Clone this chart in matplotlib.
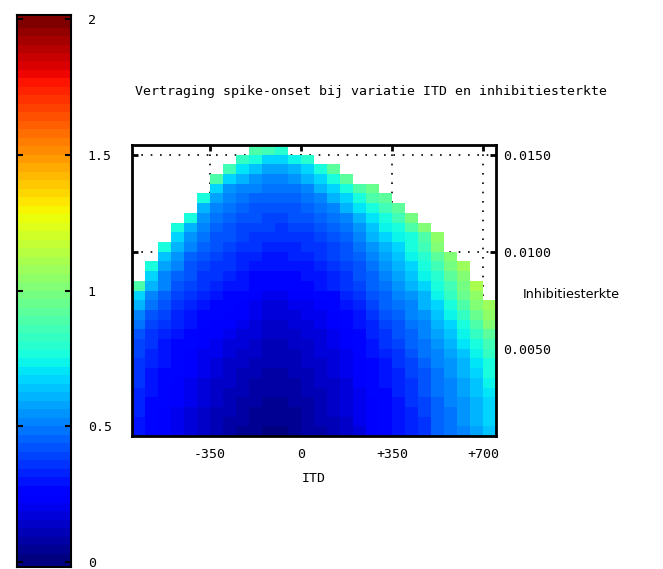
import numpy as np
import matplotlib.pyplot as plt

nan = np.nan

# cell edges: ITD in steps of 50, inhibition strength in steps of 0.0005
itd_edges = np.linspace(-650, 750, 29)
inhib_edges = np.linspace(0.0005, 0.0155, 31)

itd_ticks = [-350, 0, 350, 700]
itd_ticklabels = ['-350', '0', '+350', '+700']
inhib_ticks = [0.005, 0.010, 0.015]
inhib_ticklabels = ['0.0050', '0.0100', '0.0150']
cbar_ticks = [0, 0.5, 1, 1.5, 2]
cbar_ticklabels = ['0', '0.5', '1', '1.5', '2']

# spike-onset delay, rows from strongest inhibition (top) to weakest (bottom)
onset_delay = [
    [nan, nan, nan, nan, nan, nan, nan, nan, nan, 0.90, 0.85, 0.80, nan, nan, nan, nan, nan, nan, nan, nan, nan, nan, nan, nan, nan, nan, nan, nan],
    [nan, nan, nan, nan, nan, nan, nan, nan, 0.83, 0.76, 0.68, 0.68, 0.74, 0.80, nan, nan, nan, nan, nan, nan, nan, nan, nan, nan, nan, nan, nan, nan],
    [nan, nan, nan, nan, nan, nan, nan, 0.85, 0.70, 0.63, 0.58, 0.58, 0.62, 0.66, 0.76, 0.92, nan, nan, nan, nan, nan, nan, nan, nan, nan, nan, nan, nan],
    [nan, nan, nan, nan, nan, nan, 0.90, 0.66, 0.60, 0.56, 0.53, 0.53, 0.55, 0.60, 0.66, 0.76, 0.92, nan, nan, nan, nan, nan, nan, nan, nan, nan, nan, nan],
    [nan, nan, nan, nan, nan, nan, 0.66, 0.56, 0.52, 0.50, 0.47, 0.47, 0.48, 0.52, 0.60, 0.66, 0.76, 0.88, 0.95, nan, nan, nan, nan, nan, nan, nan, nan, nan],
    [nan, nan, nan, nan, nan, 0.76, 0.58, 0.52, 0.48, 0.46, 0.44, 0.44, 0.45, 0.48, 0.52, 0.60, 0.68, 0.77, 0.88, 0.93, nan, nan, nan, nan, nan, nan, nan, nan],
    [nan, nan, nan, nan, nan, 0.60, 0.52, 0.48, 0.45, 0.43, 0.42, 0.42, 0.43, 0.45, 0.48, 0.53, 0.60, 0.70, 0.77, 0.85, 0.93, nan, nan, nan, nan, nan, nan, nan],
    [nan, nan, nan, nan, 0.76, 0.56, 0.49, 0.46, 0.43, 0.41, 0.40, 0.40, 0.41, 0.42, 0.45, 0.48, 0.53, 0.62, 0.70, 0.76, 0.85, 0.97, nan, nan, nan, nan, nan, nan],
    [nan, nan, nan, 0.75, 0.62, 0.52, 0.46, 0.43, 0.40, 0.39, 0.38, 0.37, 0.38, 0.39, 0.42, 0.45, 0.49, 0.56, 0.64, 0.72, 0.78, 0.88, 1.00, nan, nan, nan, nan, nan],
    [nan, nan, nan, 0.66, 0.55, 0.48, 0.43, 0.41, 0.38, 0.37, 0.36, 0.35, 0.36, 0.37, 0.40, 0.42, 0.46, 0.52, 0.60, 0.66, 0.72, 0.78, 0.88, 1.06, nan, nan, nan, nan],
    [nan, nan, 0.75, 0.60, 0.50, 0.44, 0.41, 0.39, 0.36, 0.35, 0.34, 0.33, 0.34, 0.35, 0.37, 0.40, 0.43, 0.49, 0.56, 0.62, 0.68, 0.76, 0.86, 1.00, nan, nan, nan, nan],
    [nan, nan, 0.65, 0.54, 0.46, 0.41, 0.39, 0.37, 0.34, 0.32, 0.31, 0.31, 0.32, 0.33, 0.35, 0.38, 0.41, 0.46, 0.52, 0.58, 0.64, 0.72, 0.80, 0.92, 1.00, nan, nan, nan],
    [nan, 0.76, 0.58, 0.50, 0.43, 0.39, 0.37, 0.35, 0.32, 0.30, 0.29, 0.29, 0.30, 0.31, 0.33, 0.36, 0.39, 0.43, 0.49, 0.55, 0.60, 0.68, 0.76, 0.85, 0.97, 1.08, nan, nan],
    [nan, 0.66, 0.53, 0.46, 0.41, 0.37, 0.35, 0.33, 0.30, 0.28, 0.27, 0.27, 0.28, 0.29, 0.31, 0.34, 0.37, 0.41, 0.46, 0.52, 0.57, 0.64, 0.72, 0.80, 0.92, 1.02, nan, nan],
    [0.88, 0.60, 0.50, 0.43, 0.39, 0.36, 0.33, 0.31, 0.29, 0.27, 0.25, 0.25, 0.26, 0.27, 0.29, 0.32, 0.35, 0.39, 0.45, 0.49, 0.54, 0.60, 0.68, 0.76, 0.87, 0.97, 1.10, nan],
    [0.67, 0.52, 0.45, 0.40, 0.36, 0.33, 0.30, 0.28, 0.26, 0.24, 0.21, 0.21, 0.22, 0.23, 0.25, 0.28, 0.32, 0.37, 0.42, 0.46, 0.50, 0.55, 0.62, 0.72, 0.82, 0.95, 1.05, nan],
    [0.60, 0.47, 0.41, 0.37, 0.33, 0.30, 0.28, 0.26, 0.24, 0.21, 0.18, 0.18, 0.19, 0.20, 0.23, 0.26, 0.29, 0.34, 0.39, 0.44, 0.48, 0.53, 0.60, 0.68, 0.77, 0.88, 1.00, 1.08],
    [0.52, 0.43, 0.38, 0.34, 0.31, 0.28, 0.26, 0.24, 0.22, 0.19, 0.17, 0.16, 0.17, 0.19, 0.21, 0.24, 0.27, 0.31, 0.36, 0.41, 0.45, 0.50, 0.56, 0.64, 0.73, 0.83, 0.94, 1.05],
    [0.47, 0.40, 0.35, 0.32, 0.29, 0.26, 0.24, 0.22, 0.20, 0.17, 0.15, 0.15, 0.16, 0.17, 0.19, 0.22, 0.25, 0.29, 0.34, 0.39, 0.43, 0.48, 0.53, 0.60, 0.68, 0.78, 0.88, 1.00],
    [0.43, 0.37, 0.33, 0.30, 0.27, 0.24, 0.22, 0.20, 0.18, 0.16, 0.14, 0.13, 0.14, 0.16, 0.18, 0.21, 0.24, 0.27, 0.32, 0.37, 0.41, 0.46, 0.51, 0.57, 0.64, 0.73, 0.82, 0.92],
    [0.40, 0.35, 0.31, 0.28, 0.25, 0.23, 0.20, 0.18, 0.16, 0.14, 0.12, 0.12, 0.13, 0.15, 0.17, 0.19, 0.22, 0.26, 0.30, 0.35, 0.39, 0.44, 0.49, 0.54, 0.61, 0.69, 0.77, 0.87],
    [0.38, 0.33, 0.30, 0.27, 0.24, 0.21, 0.19, 0.17, 0.15, 0.13, 0.11, 0.11, 0.12, 0.14, 0.16, 0.18, 0.21, 0.25, 0.29, 0.33, 0.37, 0.42, 0.47, 0.52, 0.58, 0.65, 0.73, 0.82],
    [0.37, 0.32, 0.29, 0.26, 0.23, 0.20, 0.17, 0.15, 0.13, 0.12, 0.10, 0.10, 0.11, 0.13, 0.15, 0.17, 0.20, 0.24, 0.28, 0.31, 0.35, 0.40, 0.45, 0.50, 0.56, 0.62, 0.70, 0.78],
    [0.36, 0.31, 0.28, 0.25, 0.22, 0.19, 0.16, 0.14, 0.12, 0.10, 0.09, 0.09, 0.10, 0.12, 0.14, 0.16, 0.19, 0.23, 0.27, 0.30, 0.34, 0.39, 0.43, 0.49, 0.54, 0.60, 0.67, 0.75],
    [0.35, 0.30, 0.27, 0.24, 0.21, 0.18, 0.15, 0.13, 0.11, 0.09, 0.08, 0.08, 0.09, 0.11, 0.13, 0.15, 0.18, 0.22, 0.26, 0.29, 0.33, 0.37, 0.42, 0.48, 0.52, 0.58, 0.65, 0.72],
    [0.34, 0.29, 0.26, 0.23, 0.20, 0.17, 0.14, 0.12, 0.10, 0.08, 0.07, 0.07, 0.08, 0.10, 0.12, 0.14, 0.17, 0.21, 0.25, 0.28, 0.32, 0.36, 0.41, 0.47, 0.51, 0.57, 0.63, 0.70],
    [0.33, 0.28, 0.25, 0.22, 0.19, 0.16, 0.13, 0.11, 0.09, 0.07, 0.06, 0.06, 0.07, 0.09, 0.11, 0.14, 0.17, 0.20, 0.24, 0.27, 0.31, 0.35, 0.39, 0.46, 0.50, 0.56, 0.62, 0.68],
    [0.32, 0.28, 0.24, 0.21, 0.18, 0.15, 0.12, 0.10, 0.08, 0.06, 0.05, 0.05, 0.06, 0.08, 0.10, 0.13, 0.16, 0.19, 0.23, 0.26, 0.30, 0.34, 0.38, 0.45, 0.49, 0.55, 0.61, 0.67],
    [0.31, 0.27, 0.24, 0.21, 0.18, 0.15, 0.12, 0.09, 0.07, 0.05, 0.04, 0.04, 0.05, 0.07, 0.10, 0.12, 0.15, 0.19, 0.22, 0.25, 0.29, 0.33, 0.37, 0.44, 0.48, 0.54, 0.60, 0.66],
    [0.31, 0.27, 0.23, 0.20, 0.17, 0.14, 0.11, 0.08, 0.06, 0.04, 0.03, 0.03, 0.05, 0.07, 0.09, 0.12, 0.15, 0.18, 0.22, 0.25, 0.29, 0.33, 0.37, 0.44, 0.48, 0.53, 0.59, 0.65],
]

plt.rcParams['font.family'] = 'DejaVu Sans Mono'
plt.rcParams['font.size'] = 9.5

W, H = 663, 569
fig = plt.figure(figsize=(W / 100, H / 100), dpi=100)

# axes boxes placed in pixel units
def px_axes(x0, y0, x1, y1):
    return fig.add_axes([x0 / W, 1 - y1 / H, (x1 - x0) / W, (y1 - y0) / H])

ax = px_axes(132, 145, 496, 436)
cax = px_axes(17, 15, 71, 567)

cmap = plt.get_cmap('jet', 64)
z = np.ma.masked_invalid(np.flipud(np.array(onset_delay)))
ax.pcolormesh(itd_edges, inhib_edges, z, cmap=cmap, vmin=0, vmax=2, zorder=2)

ax.set_xlim(itd_edges[0], itd_edges[-1])
ax.set_ylim(inhib_edges[0], inhib_edges[-1])

ax.set_xticks(itd_ticks)
ax.set_xticklabels(itd_ticklabels)
ax.set_yticks(inhib_ticks)
ax.set_yticklabels(inhib_ticklabels)
ax.yaxis.tick_right()
ax.tick_params(axis='both', which='major', direction='in', length=4, width=2,
               top=True, bottom=True, left=True, right=True,
               labelleft=False, labelright=True)
ax.tick_params(axis='x', pad=9)
ax.tick_params(axis='y', pad=5)

for s in ax.spines.values():
    s.set_linewidth(2)

# dotted grid sits behind the surface, so it only shows in empty cells
ax.set_axisbelow(True)
ax.grid(True, color='black', linestyle=(0, (1, 4.6)), linewidth=1.2, zorder=0)

ax.set_xlabel('ITD')
ax.xaxis.set_label_coords(0.5, -(478 - 436) / 291)
ax.xaxis.label.set_va('center')
ax.set_ylabel('Inhibitiesterkte', rotation=0, ha='left', va='center',
              family='DejaVu Sans', fontsize=9.2)
ax.yaxis.set_label_position('right')
ax.yaxis.set_label_coords((523 - 132) / 364, (436 - 288) / 291)

fig.text(371 / W, 1 - 92 / H, 'Vertraging spike-onset bij variatie ITD en inhibitiesterkte',
         ha='center', va='center')

# colour scale: 64 bands of jet, the box runs a little past 0 and 2
band_edges = np.linspace(0, 2, 65)
band_mid = (band_edges[:-1] + band_edges[1:]) / 2
lo, hi = -0.018, 2.015
band_edges[0], band_edges[-1] = lo, hi
cax.pcolormesh([0, 1], band_edges, band_mid[:, None], cmap=cmap, vmin=0, vmax=2)
cax.set_xlim(0, 1)
cax.set_ylim(lo, hi)
cax.set_xticks([])
cax.yaxis.tick_right()
cax.set_yticks(cbar_ticks)
cax.set_yticklabels(cbar_ticklabels)
cax.tick_params(axis='y', direction='in', length=4, width=1.5, left=True, right=True, pad=12)
for s in cax.spines.values():
    s.set_linewidth(1.5)

fig.savefig('out.png', dpi=100)
